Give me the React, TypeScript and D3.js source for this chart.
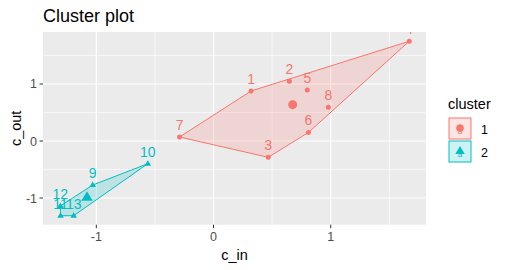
import React from "react";
import * as d3 from "d3";

const ids = ["1","2","3","4","5","6","7","8","9","10","11","12","13"];
const cIn = [0.32, 0.647, 0.467, 1.67, 0.80, 0.81, -0.29, 0.98, -1.031, -0.561, -1.305, -1.307, -1.193];
const cOut = [0.877, 1.05, -0.286, 1.75, 0.895, 0.15, 0.07, 0.59, -0.772, -0.398, -1.31, -1.14, -1.31];
const clusterOf = [1,1,1,1,1,1,1,1,2,2,2,2,2];
const clusters = [1, 2];
const colors = ["#F8766D", "#00BFC4"];
const xTicks = [-1, 0, 1];
const yTicks = [-1, 0, 1];
const xMinor = [-0.5, 0.5, 1.5];
const yMinor = [-0.5, 0.5, 1.5];

const W = 507, H = 270;
const P = { l: 43, r: 426, t: 32, b: 224.7 };

export default function App() {
  const x = d3.scaleLinear().domain([-1.455, 1.813]).range([P.l, P.r]);
  const y = d3.scaleLinear().domain([-1.468, 1.912]).range([P.b, P.t]);
  const font = "Liberation Sans, Arial, sans-serif";
  const pts = ids.map((id, i) => ({ id, x: cIn[i], y: cOut[i], c: clusterOf[i] }));
  const tri = (cx: number, cy: number, s: number) =>
    `M${cx},${cy - s}L${cx + s * 0.95},${cy + s * 0.6}L${cx - s * 0.95},${cy + s * 0.6}Z`;
  return (
    <svg width={W} height={H} style={{ position: "absolute", left: 0, top: 0, fontFamily: font }}>
      <defs>
        <clipPath id="pc"><rect x={P.l} y={P.t} width={P.r - P.l} height={P.b - P.t} /></clipPath>
      </defs>
      <rect x={0} y={0} width={W} height={H} fill="#fff" />
      <text x={P.l} y={22} fontSize={18} fill="#000">Cluster plot</text>
      <rect x={P.l} y={P.t} width={P.r - P.l} height={P.b - P.t} fill="#EBEBEB" />
      {xMinor.filter(v => x(v) > P.l && x(v) < P.r).map(v => (
        <line key={"xm" + v} x1={x(v)} x2={x(v)} y1={P.t} y2={P.b} stroke="#fff" strokeWidth={0.6} />
      ))}
      {yMinor.filter(v => y(v) > P.t && y(v) < P.b).map(v => (
        <line key={"ym" + v} y1={y(v)} y2={y(v)} x1={P.l} x2={P.r} stroke="#fff" strokeWidth={0.6} />
      ))}
      {xTicks.map(v => (
        <line key={"xM" + v} x1={x(v)} x2={x(v)} y1={P.t} y2={P.b} stroke="#fff" strokeWidth={1.2} />
      ))}
      {yTicks.map(v => (
        <line key={"yM" + v} y1={y(v)} y2={y(v)} x1={P.l} x2={P.r} stroke="#fff" strokeWidth={1.2} />
      ))}
      <g clipPath="url(#pc)">
        {clusters.map((c, ci) => {
          const cp = pts.filter(p => p.c === c).map(p => [x(p.x), y(p.y)] as [number, number]);
          const hull = d3.polygonHull(cp) || [];
          return (
            <path key={"h" + c} d={"M" + hull.map(p => p.join(",")).join("L") + "Z"}
              fill={colors[ci]} fillOpacity={0.2} stroke={colors[ci]} strokeWidth={1} />
          );
        })}
        {pts.map(p => {
          const col = colors[p.c - 1];
          const px = x(p.x), py = y(p.y);
          return p.c === 1
            ? <circle key={"p" + p.id} cx={px} cy={py} r={2.5} fill={col} />
            : <path key={"p" + p.id} d={tri(px, py, 3.5)} fill={col} />;
        })}
        {clusters.map((c, ci) => {
          const cp = pts.filter(p => p.c === c);
          const mx = d3.mean(cp, p => p.x) as number;
          const my = d3.mean(cp, p => p.y) as number;
          return c === 1
            ? <circle key={"c" + c} cx={x(mx)} cy={y(my)} r={4.5} fill={colors[ci]} />
            : <path key={"c" + c} d={tri(x(mx), y(my), 6)} fill={colors[ci]} />;
        })}
        {pts.map(p => (
          <text key={"t" + p.id} x={x(p.x)} y={y(p.y) - 7} textAnchor="middle" fontSize={14}
            fill={colors[p.c - 1]}>{p.id}</text>
        ))}
      </g>
      {xTicks.map(v => (
        <g key={"xt" + v}>
          <line x1={x(v)} x2={x(v)} y1={P.b} y2={P.b + 3.5} stroke="#333" strokeWidth={1} />
          <text x={x(v)} y={P.b + 16} textAnchor="middle" fontSize={12.5} fill="#4D4D4D">{v}</text>
        </g>
      ))}
      {yTicks.map(v => (
        <g key={"yt" + v}>
          <line x1={P.l - 3.5} x2={P.l} y1={y(v)} y2={y(v)} stroke="#333" strokeWidth={1} />
          <text x={P.l - 6} y={y(v) + 4.5} textAnchor="end" fontSize={12.5} fill="#4D4D4D">{v}</text>
        </g>
      ))}
      <text x={(P.l + P.r) / 2} y={260} textAnchor="middle" fontSize={14.5} fill="#000">c_in</text>
      <text transform={`translate(21,${(P.t + P.b) / 2}) rotate(-90)`} textAnchor="middle" fontSize={14.5} fill="#000">c_out</text>
      <text x={448} y={109} fontSize={14.5} fill="#000">cluster</text>
      {clusters.map((c, ci) => {
        const ky = 118 + ci * 23;
        const cx = 460, cy = ky + 11;
        return (
          <g key={"lg" + c}>
            <rect x={449} y={ky} width={22} height={21} fill={colors[ci]} fillOpacity={0.2} stroke={colors[ci]} strokeWidth={1} />
            {c === 1
              ? <circle cx={cx} cy={cy - 1} r={3.8} fill={colors[ci]} />
              : <path d={tri(cx, cy - 1, 5)} fill={colors[ci]} />}
            <text x={cx} y={cy + 5} textAnchor="middle" fontSize={8} fill={colors[ci]}>a</text>
            <text x={481} y={cy + 5} fontSize={12.5} fill="#000">{c}</text>
          </g>
        );
      })}
    </svg>
  );
}
